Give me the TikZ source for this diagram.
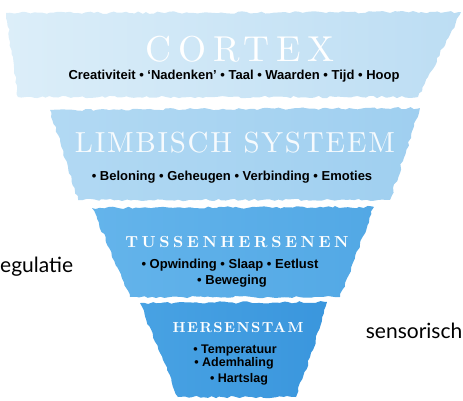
\documentclass[tikz,border=0pt]{standalone}
\usepackage{fontspec}
\setsansfont{Liberation Sans}
\newfontfamily\sidefont{Lato}
\newfontfamily\titlefont{lmroman10-regular.otf}[BoldFont=lmroman10-bold.otf]
\usetikzlibrary{decorations.pathmorphing}
\definecolor{cxL}{HTML}{DCEEF9}
\definecolor{cxR}{HTML}{BCDDF3}
\definecolor{lbL}{HTML}{B2D9F3}
\definecolor{lbR}{HTML}{9FCFF0}
\definecolor{tsL}{HTML}{64B4EB}
\definecolor{tsR}{HTML}{52A8E5}
\definecolor{hsL}{HTML}{48A2E3}
\definecolor{hsR}{HTML}{3A96DD}
\tikzset{
  band/.style={decorate, decoration={random steps, segment length=4pt, amplitude=1.2pt}},
  ttl/.style={text=white, inner sep=0pt},
  sub/.style={inner sep=0pt, font=\sffamily\bfseries\fontsize{13}{15}\selectfont},
  subsm/.style={inner sep=0pt, font=\sffamily\bfseries\fontsize{12.5}{14}\selectfont},
  side/.style={inner sep=0pt, font=\sidefont\fontsize{21}{24}\selectfont}
}
\begin{document}
\begin{tikzpicture}[x=1pt,y=-1pt]
\useasboundingbox (0,0) rectangle (463,400);
\clip (0,0) rectangle (463,400);
\pgfmathsetseed{7}
% bands
\path[band, left color=cxL, right color=cxR] (6,13) -- (461,12) -- (418,97) -- (18,97) -- cycle;
\path[band, left color=lbL, right color=lbR] (50,110) -- (420,108) -- (390,200) -- (78,200) -- cycle;
\path[band, left color=tsL, right color=tsR] (92,208) -- (374,207) -- (340,297) -- (130,297) -- cycle;
\path[band, left color=hsL, right color=hsR] (140,303) -- (327,302) -- (313,350) -- (296,397) -- (178,397) -- cycle;
% titles
\node[ttl, font=\titlefont\fontsize{36}{40}\selectfont\addfontfeatures{LetterSpace=19}] (cortexT) at (240,49) {CORTEX};
\node[sub] (cortexS) at (234,76) {Creativiteit • `Nadenken' • Taal • Waarden • Tijd • Hoop};
\node[ttl, text opacity=0.9, font=\titlefont\fontsize{29}{32}\selectfont\addfontfeatures{LetterSpace=6}] (limbT) at (235,143) {LIMBISCH SYSTEEM};
\node[sub] (limbS) at (232,177) {• Beloning • Geheugen • Verbinding • Emoties};
\node[ttl, font=\titlefont\bfseries\fontsize{16}{18}\selectfont\addfontfeatures{LetterSpace=22}] (tusT) at (237,242) {TUSSENHERSENEN};
\node[sub] (tusS1) at (230,265) {• Opwinding • Slaap • Eetlust};
\node[sub] (tusS2) at (232,281) {• Beweging};
\node[ttl, font=\titlefont\bfseries\fontsize{14.5}{16}\selectfont\addfontfeatures{LetterSpace=10}] (herT) at (238,328) {HERSENSTAM};
\node[subsm] (herS1) at (235,350) {• Temperatuur};
\node[subsm] (herS2) at (234,363) {• Ademhaling};
\node[subsm] (herS3) at (239,379) {• Hartslag};
% side labels
\node[side, anchor=base west] (regul) at (0,272) {egulatie};
\node[side, anchor=base east] (senso) at (462.5,338) {sensorisch};
\end{tikzpicture}
\end{document}
